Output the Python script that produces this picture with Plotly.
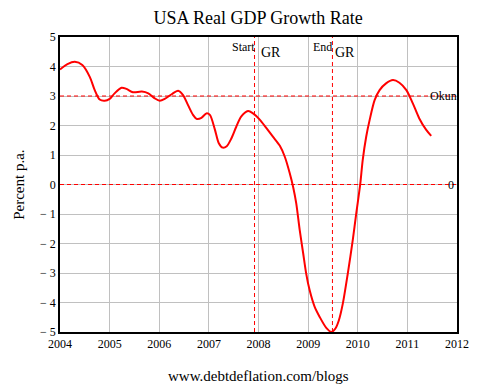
import plotly.graph_objects as go

years = [2004.0, 2004.15, 2004.3, 2004.45, 2004.6, 2004.7, 2004.8, 2004.9, 2005.0, 2005.1,
         2005.24, 2005.34, 2005.47, 2005.65, 2005.78, 2005.91, 2006.01, 2006.11, 2006.25, 2006.38,
         2006.48, 2006.58, 2006.68, 2006.76, 2006.85, 2006.95, 2007.02, 2007.12, 2007.2, 2007.28,
         2007.36, 2007.45, 2007.55, 2007.65, 2007.79, 2007.89, 2008.02, 2008.16, 2008.29, 2008.43,
         2008.53, 2008.63, 2008.7, 2008.76, 2008.83, 2008.9, 2008.96, 2009.03, 2009.13, 2009.23,
         2009.37, 2009.47, 2009.55, 2009.62, 2009.7, 2009.8, 2009.9, 2009.97, 2010.05, 2010.1,
         2010.17, 2010.24, 2010.34, 2010.44, 2010.57, 2010.71, 2010.84, 2010.98, 2011.11, 2011.24,
         2011.38, 2011.48]
growth = [3.90, 4.08, 4.16, 4.05, 3.65, 3.2, 2.88, 2.84, 2.9, 3.09,
          3.28, 3.24, 3.13, 3.15, 3.09, 2.92, 2.84, 2.9, 3.06, 3.18,
          3.03, 2.69, 2.36, 2.22, 2.26, 2.41, 2.36, 1.87, 1.4, 1.25,
          1.3, 1.55, 1.95, 2.3, 2.49, 2.41, 2.21, 1.91, 1.62, 1.31,
          0.94, 0.38, -0.1, -0.63, -1.54, -2.33, -3.01, -3.58, -4.14, -4.48,
          -4.87, -5.0, -4.88, -4.6, -4.03, -3.01, -1.88, -0.98, 0.01, 0.83,
          1.62, 2.19, 2.86, 3.2, 3.43, 3.54, 3.45, 3.2, 2.75, 2.24,
          1.85, 1.65]

x_ticks = [2004, 2005, 2006, 2007, 2008, 2009, 2010, 2011, 2012]
y_ticks = [5, 4, 3, 2, 1, 0, -1, -2, -3, -4, -5]
y_ticktext = ["5", "4", "3", "2", "1", "0", "\u2212 1", "\u2212 2", "\u2212 3", "\u2212 4", "\u2212 5"]

okun_level = 3
zero_level = 0
gr_start = 2007.92
gr_end = 2009.49

FONT = "Liberation Serif"
txt = dict(family=FONT, size=12, color="black")

fig = go.Figure()
fig.add_trace(go.Scatter(x=years, y=growth, mode="lines",
                         line=dict(color="#ff0000", width=2, shape="spline", smoothing=0.8),
                         hoverinfo="skip", showlegend=False))

dash = dict(color="#ff0000", width=1, dash="4px,3px")
shapes = [
    dict(type="line", xref="paper", x0=0, x1=1, yref="y", y0=okun_level, y1=okun_level, line=dash),
    dict(type="line", xref="paper", x0=0, x1=1, yref="y", y0=zero_level, y1=zero_level, line=dash),
    dict(type="line", xref="x", x0=gr_start, x1=gr_start, yref="paper", y0=0, y1=1, line=dash),
    dict(type="line", xref="x", x0=gr_end, x1=gr_end, yref="paper", y0=0, y1=1, line=dash),
]

annotations = [
    dict(x=gr_start, y=5, xref="x", yref="y", text="Start", showarrow=False,
         xanchor="right", yanchor="top", xshift=2, yshift=-1, font=txt),
    dict(x=gr_start, y=5, xref="x", yref="y", text="GR", showarrow=False,
         xanchor="left", yanchor="top", xshift=4, yshift=-6, font=dict(family=FONT, size=14, color="black")),
    dict(x=gr_end, y=5, xref="x", yref="y", text="End", showarrow=False,
         xanchor="right", yanchor="top", xshift=2, yshift=-1, font=txt),
    dict(x=gr_end, y=5, xref="x", yref="y", text="GR", showarrow=False,
         xanchor="left", yanchor="top", xshift=1, yshift=-6, font=dict(family=FONT, size=14, color="black")),
    dict(x=1, y=okun_level, xref="paper", yref="y", text="Okun", showarrow=False,
         xanchor="right", yanchor="middle", xshift=2, font=txt),
    dict(x=1, y=zero_level, xref="paper", yref="y", text="0", showarrow=False,
         xanchor="right", yanchor="middle", xshift=-1, font=txt),
    dict(x=0.5, y=-0.115, xref="paper", yref="paper", text="www.debtdeflation.com/blogs", showarrow=False,
         xanchor="center", yanchor="top", font=dict(family=FONT, size=15, color="black")),
    dict(x=-0.105, y=0.5, xref="paper", yref="paper", text="Percent p.a.", showarrow=False, textangle=-90,
         xanchor="center", yanchor="middle", font=dict(family=FONT, size=15, color="black")),
]

fig.update_layout(
    width=478, height=385,
    margin=dict(l=60, r=21, t=37, b=53, autoexpand=False),
    paper_bgcolor="white", plot_bgcolor="white",
    font=dict(family=FONT, size=12, color="black"),
    title=dict(text="USA Real GDP Growth Rate", x=0.54, xanchor="center", y=0.97, yanchor="top",
               font=dict(family=FONT, size=18, color="black")),
    shapes=shapes,
    annotations=annotations,
    showlegend=False,
)
fig.update_xaxes(range=[2004, 2012], tickvals=x_ticks, ticktext=[str(t) for t in x_ticks],
                 showgrid=True, gridcolor="#c0c0c0", gridwidth=1, zeroline=False, automargin=False,
                 showline=True, linecolor="black", linewidth=1.5, mirror=True, ticks="",
                 tickfont=txt)
fig.update_yaxes(range=[-5, 5], tickvals=y_ticks, ticktext=y_ticktext,
                 showgrid=True, gridcolor="#c0c0c0", gridwidth=1, zeroline=False, automargin=False,
                 showline=True, linecolor="black", linewidth=1.5, mirror=True, ticks="",
                 tickfont=txt)

fig.write_html("out.html", config={"displayModeBar": False},
               post_script="document.body.style.margin='0';document.body.style.overflow='hidden';")
